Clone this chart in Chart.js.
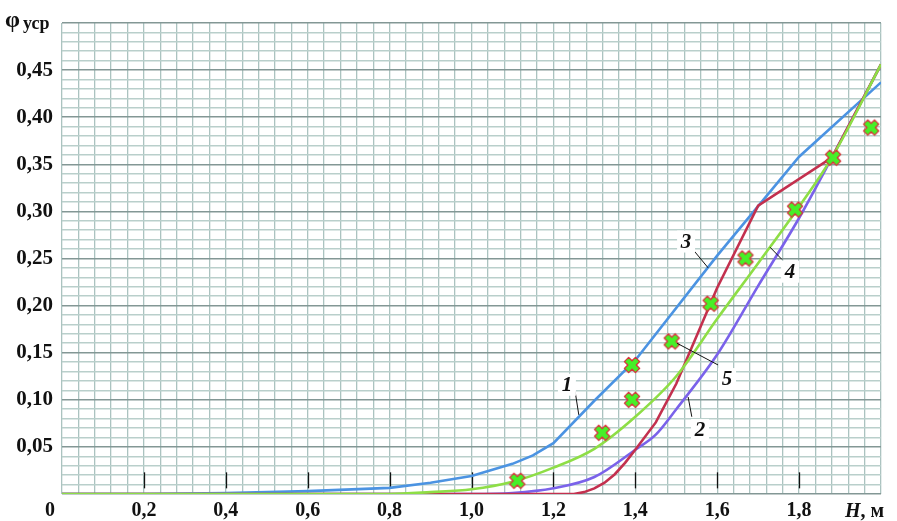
<!DOCTYPE html>
<html><head><meta charset="utf-8">
<script src="https://cdn.jsdelivr.net/npm/chart.js@4/dist/chart.umd.min.js"></script>
<style>html,body{margin:0;padding:0;background:#fff}#wrap{width:897px;height:521px;position:relative}</style>
</head><body><div id="wrap"><canvas id="c"></canvas></div>
<script>
// ---- data ----
const blueX   = [0, 0.2, 0.4, 0.6, 0.8, 0.9, 1.0, 1.1, 1.15, 1.2, 1.3, 1.4, 1.6, 1.8, 2.0];
const blueY   = [0, 0, 0.001, 0.003, 0.0065, 0.012, 0.019, 0.032, 0.041, 0.054, 0.099, 0.142, 0.253, 0.358, 0.437];
const greenX  = [0, 0.8, 0.9, 1.0, 1.1, 1.2, 1.3, 1.4, 1.5, 1.6, 1.7, 1.8, 1.88, 2.0];
const greenY  = [0, 0, 0.002, 0.005, 0.013, 0.028, 0.048, 0.082, 0.125, 0.186, 0.245, 0.305, 0.357, 0.456];
const purpleX = [0, 1.0, 1.1, 1.2, 1.3, 1.4, 1.45, 1.5, 1.6, 1.7, 1.8, 1.88, 2.0];
const purpleY = [0, 0, 0.001, 0.006, 0.018, 0.047, 0.063, 0.09, 0.148, 0.221, 0.293, 0.357, 0.456];
const redX    = [0, 1.25, 1.275, 1.3, 1.325, 1.35, 1.375, 1.4, 1.45, 1.5, 1.6, 1.7, 1.88, 2.0];
const redY    = [0, 0, 0.002, 0.006, 0.012, 0.021, 0.033, 0.047, 0.076, 0.117, 0.219, 0.306, 0.357, 0.456];
const markX   = [1.112, 1.319, 1.392, 1.392, 1.489, 1.584, 1.669, 1.79, 1.883, 1.976];
const markY   = [0.014, 0.065, 0.100, 0.137, 0.162, 0.202, 0.250, 0.302, 0.357, 0.389];
const xTickLabels = [0.2, 0.4, 0.6, 0.8, 1.0, 1.2, 1.4, 1.6, 1.8];
const yTickLabels = [0.05, 0.10, 0.15, 0.20, 0.25, 0.30, 0.35, 0.40, 0.45];
// curve labels: text, label position, leader start, leader end (data coords)
const curveLabels = [
  {t:'1', x:1.233, y:0.116, x1:1.253, y1:0.109, x2:1.262, y2:0.084},
  {t:'2', x:1.558, y:0.068, x1:1.538, y1:0.082, x2:1.529, y2:0.103},
  {t:'3', x:1.524, y:0.268, x1:1.538, y1:0.261, x2:1.578, y2:0.240},
  {t:'4', x:1.778, y:0.236, x1:1.758, y1:0.249, x2:1.729, y2:0.262},
  {t:'5', x:1.624, y:0.122, x1:1.602, y1:0.137, x2:1.502, y2:0.160}
];

const pts = (xs, ys) => xs.map((x, i) => ({x, y: ys[i]}));
const comma = v => v.toFixed(1).replace('.', ',');

// fat X marker
const mk = document.createElement('canvas');
mk.width = 20; mk.height = 20;
(function(){
  const g = mk.getContext('2d');
  const r = 7.8, t = 3.0, c = 10;
  const p = [[t,r],[t,t],[r,t],[r,-t],[t,-t],[t,-r],[-t,-r],[-t,-t],[-r,-t],[-r,t],[-t,t],[-t,r]];
  const a = Math.PI/4, ca = Math.cos(a), sa = Math.sin(a);
  g.beginPath();
  p.forEach(([x,y], i) => { const X = c + x*ca - y*sa, Y = c + x*sa + y*ca; i ? g.lineTo(X,Y) : g.moveTo(X,Y); });
  g.closePath();
  g.fillStyle = '#46f028'; g.fill();
  g.lineJoin = 'round'; g.lineWidth = 1.3; g.strokeStyle = '#d8303a'; g.stroke();
})();

const SERIF = '"Liberation Serif", "DejaVu Serif", serif';

const overlay = {
  id: 'overlay',
  beforeDatasetsDraw(chart) {
    const {ctx, scales:{x, y}} = chart;
    ctx.save();
    ctx.strokeStyle = '#111'; ctx.lineWidth = 1.3;
    xTickLabels.forEach(v => {
      const px = Math.round(x.getPixelForValue(v)) + 0.5;
      ctx.beginPath(); ctx.moveTo(px, y.getPixelForValue(0.023)); ctx.lineTo(px, y.getPixelForValue(0.006)); ctx.stroke();
    });
    ctx.restore();
  },
  afterDatasetsDraw(chart) {
    const {ctx, scales:{x, y}} = chart;
    ctx.save();
    curveLabels.forEach(l => {
      ctx.strokeStyle = '#111'; ctx.lineWidth = 1;
      ctx.beginPath(); ctx.moveTo(x.getPixelForValue(l.x1), y.getPixelForValue(l.y1));
      ctx.lineTo(x.getPixelForValue(l.x2), y.getPixelForValue(l.y2)); ctx.stroke();
      const cx = x.getPixelForValue(l.x), cy = y.getPixelForValue(l.y);
      ctx.fillStyle = '#fff'; ctx.fillRect(cx - 9, cy - 11, 18, 22);
      ctx.fillStyle = '#111'; ctx.font = 'italic bold 21px ' + SERIF;
      ctx.textAlign = 'center'; ctx.textBaseline = 'middle';
      ctx.fillText(l.t, cx, cy + 1);
    });
    ctx.fillStyle = '#111'; ctx.textBaseline = 'alphabetic'; ctx.textAlign = 'left';
    ctx.font = 'bold 24px ' + SERIF; ctx.fillText('φ', 5, 27);
    ctx.font = 'bold 18px ' + SERIF; ctx.fillText('уср', 23, 29);
    ctx.font = 'bold 20px ' + SERIF; ctx.textAlign = 'center';
    ctx.fillText('0', 50, 516);
    ctx.textAlign = 'left';
    ctx.font = 'italic bold 20px ' + SERIF; ctx.fillText('H', 845, 517);
    const w = ctx.measureText('H').width;
    ctx.font = 'bold 20px ' + SERIF; ctx.fillText(', м', 845 + w, 517);
    ctx.restore();
  }
};

const lineDs = (label, xs, ys, color, smooth) => Object.assign({
  label, data: pts(xs, ys), borderColor: color, backgroundColor: color,
  borderWidth: 2.6, pointRadius: 0, fill: false, tension: 0
}, smooth ? {cubicInterpolationMode: 'monotone'} : {});

new Chart(document.getElementById('c'), {
  type: 'line',
  data: {
    datasets: [
      {label: 'points', data: pts(markX, markY), showLine: false, pointStyle: mk, pointRadius: 10, pointHoverRadius: 10},
      lineDs('4', greenX, greenY, '#8ede46', true),
      lineDs('red', redX, redY, '#c3304e', false),
      lineDs('2', purpleX, purpleY, '#7a62ea', true),
      lineDs('1', blueX, blueY, '#4b93e2', false)
    ]
  },
  plugins: [overlay],
  options: {
    responsive: true, maintainAspectRatio: false, animation: false,
    layout: {padding: {left: 0, top: 23, right: 16, bottom: 0}},
    plugins: {legend: {display: false}, tooltip: {enabled: false}},
    scales: {
      x: {
        type: 'linear', min: 0, max: 2.0,
        afterFit: s => { s.height = 27; },
        border: {display: false},
        grid: {color: '#abc3c0', lineWidth: 1.3, drawTicks: false},
        ticks: {
          stepSize: 0.04, autoSkip: false, maxRotation: 0, padding: 5, color: '#111',
          font: {family: SERIF, size: 20, weight: 'bold'},
          callback: v => xTickLabels.some(t => Math.abs(t - v) < 1e-6) ? comma(v) : ''
        }
      },
      y: {
        min: 0, max: 0.5,
        afterFit: s => { s.width = 62; },
        border: {display: false},
        grid: {
          drawTicks: false,
          color: c => (Math.round(c.tick.value * 100) % 5 === 0) ? '#839795' : '#b9cfcb',
          lineWidth: c => (Math.round(c.tick.value * 100) % 5 === 0) ? 1.4 : 1.6
        },
        ticks: {
          stepSize: 0.01, autoSkip: false, padding: 9, color: '#111',
          font: {family: SERIF, size: 21, weight: 'bold'},
          callback: v => yTickLabels.some(t => Math.abs(t - v) < 1e-6) ? v.toFixed(2).replace('.', ',') : ''
        }
      }
    }
  }
});
</script>
</body></html>
